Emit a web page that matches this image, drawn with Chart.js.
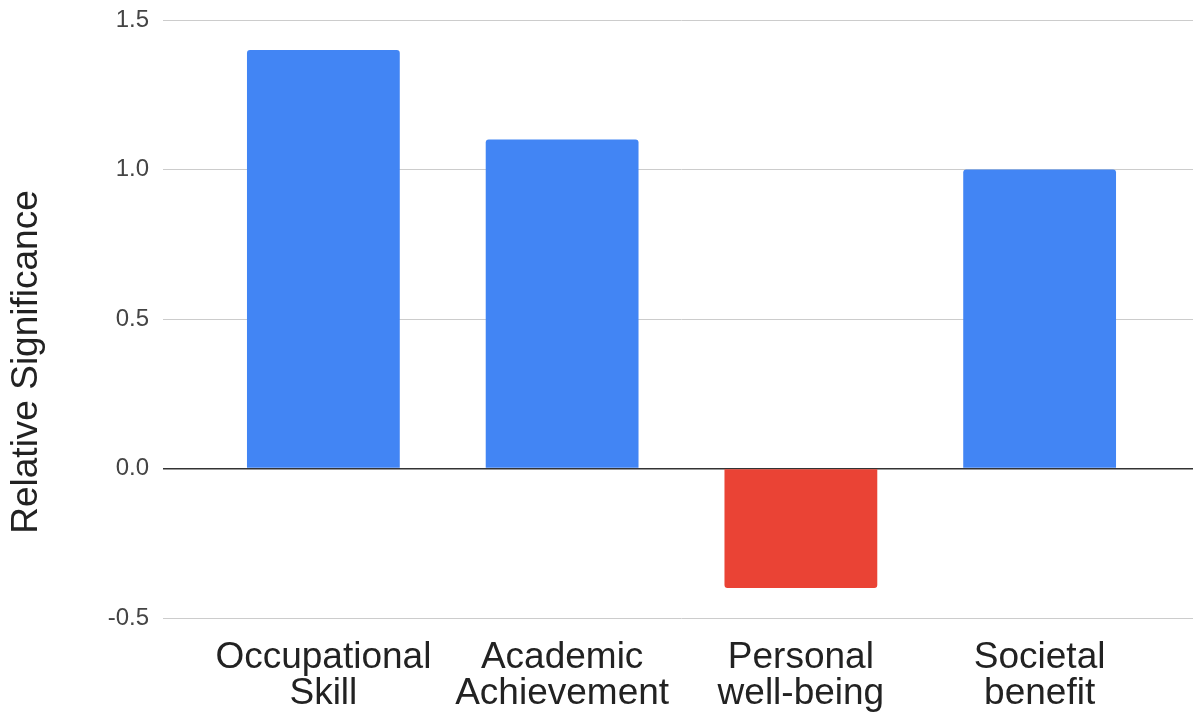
<!DOCTYPE html>
<html>
<head>
<meta charset="utf-8">
<script src="https://cdn.jsdelivr.net/npm/chart.js@4"></script>
<style>
    html, body { margin: 0; padding: 0; background: #fff; }
    #wrap { width: 1193px; height: 714px; position: relative; }
</style>
</head>
<body>
<div id="wrap"><canvas id="significanceChart"></canvas></div>
<script>
// chart data
const categories = [
    ['Occupational', 'Skill'],
    ['Academic', 'Achievement'],
    ['Personal', 'well-being'],
    ['Societal', 'benefit']
];
const significance = [1.4, 1.1, -0.4, 1.0];
const yTicks = [-0.5, 0.0, 0.5, 1.0, 1.5];
const yTitle = 'Relative Significance';

const FONT = "'Liberation Sans', Arial, sans-serif";

// Axis title drawn by hand so it sits centred on the whole canvas height
const yTitlePlugin = {
    id: 'yTitle',
    afterDraw(chart) {
        const ctx = chart.ctx;
        ctx.save();
        ctx.translate(27, 362);
        ctx.rotate(-Math.PI / 2);
        ctx.font = '37px ' + FONT;
        ctx.fillStyle = '#222';
        ctx.textAlign = 'center';
        ctx.textBaseline = 'middle';
        ctx.fillText(yTitle, 0, 0);
        ctx.restore();
    }
};

function gridColor(c) {
    return c.tick && c.tick.value === 0 ? '#333' : '#cccccc';
}
function gridWidth(c) {
    return c.tick && c.tick.value === 0 ? 1.5 : 1;
}

const ctx = document.getElementById('significanceChart');
new Chart(ctx.getContext('2d'), {
    type: 'bar',
    data: {
        labels: categories,
        datasets: [{
            label: yTitle,
            data: significance,
            yAxisID: 'y',
            backgroundColor: significance.map(v => v < 0 ? '#ea4335' : '#4285f4'),
            borderWidth: 0,
            borderRadius: 3,
            categoryPercentage: 1,
            barPercentage: 0.64
        }]
    },
    options: {
        responsive: true,
        maintainAspectRatio: false,
        animation: false,
        layout: { padding: { top: 20, left: 0, right: 0, bottom: 0 } },
        plugins: {
            legend: { display: false },
            tooltip: { enabled: false }
        },
        scales: {
            x: {
                grid: { display: false, drawTicks: false },
                border: { display: false },
                ticks: {
                    padding: 22,
                    color: '#222',
                    maxRotation: 0,
                    autoSkip: false,
                    font: { family: FONT, size: 37, lineHeight: '36px' }
                },
                afterFit(scale) { scale.height = 96; }
            },
            y: {
                position: 'left',
                min: yTicks[0],
                max: yTicks[yTicks.length - 1],
                afterBuildTicks(scale) {
                    scale.ticks = yTicks.map(v => ({ value: v }));
                },
                grid: {
                    color: gridColor,
                    lineWidth: gridWidth,
                    tickLength: 41
                },
                border: { display: false },
                ticks: {
                    padding: 14,
                    color: '#444',
                    font: { family: FONT, size: 24 },
                    callback: v => v.toFixed(1)
                },
                afterFit(scale) {
                    scale.width = 204;
                    scale.paddingTop = 0;
                    scale.paddingBottom = 0;
                }
            },
            yRight: {
                position: 'right',
                min: yTicks[0],
                max: yTicks[yTicks.length - 1],
                afterBuildTicks(scale) {
                    scale.ticks = yTicks.map(v => ({ value: v }));
                },
                grid: {
                    color: gridColor,
                    lineWidth: gridWidth,
                    tickLength: 34,
                    drawOnChartArea: false
                },
                border: { display: false },
                ticks: { display: false },
                afterFit(scale) {
                    scale.width = 34;
                    scale.paddingTop = 0;
                    scale.paddingBottom = 0;
                }
            }
        }
    },
    plugins: [yTitlePlugin]
});
</script>
</body>
</html>
